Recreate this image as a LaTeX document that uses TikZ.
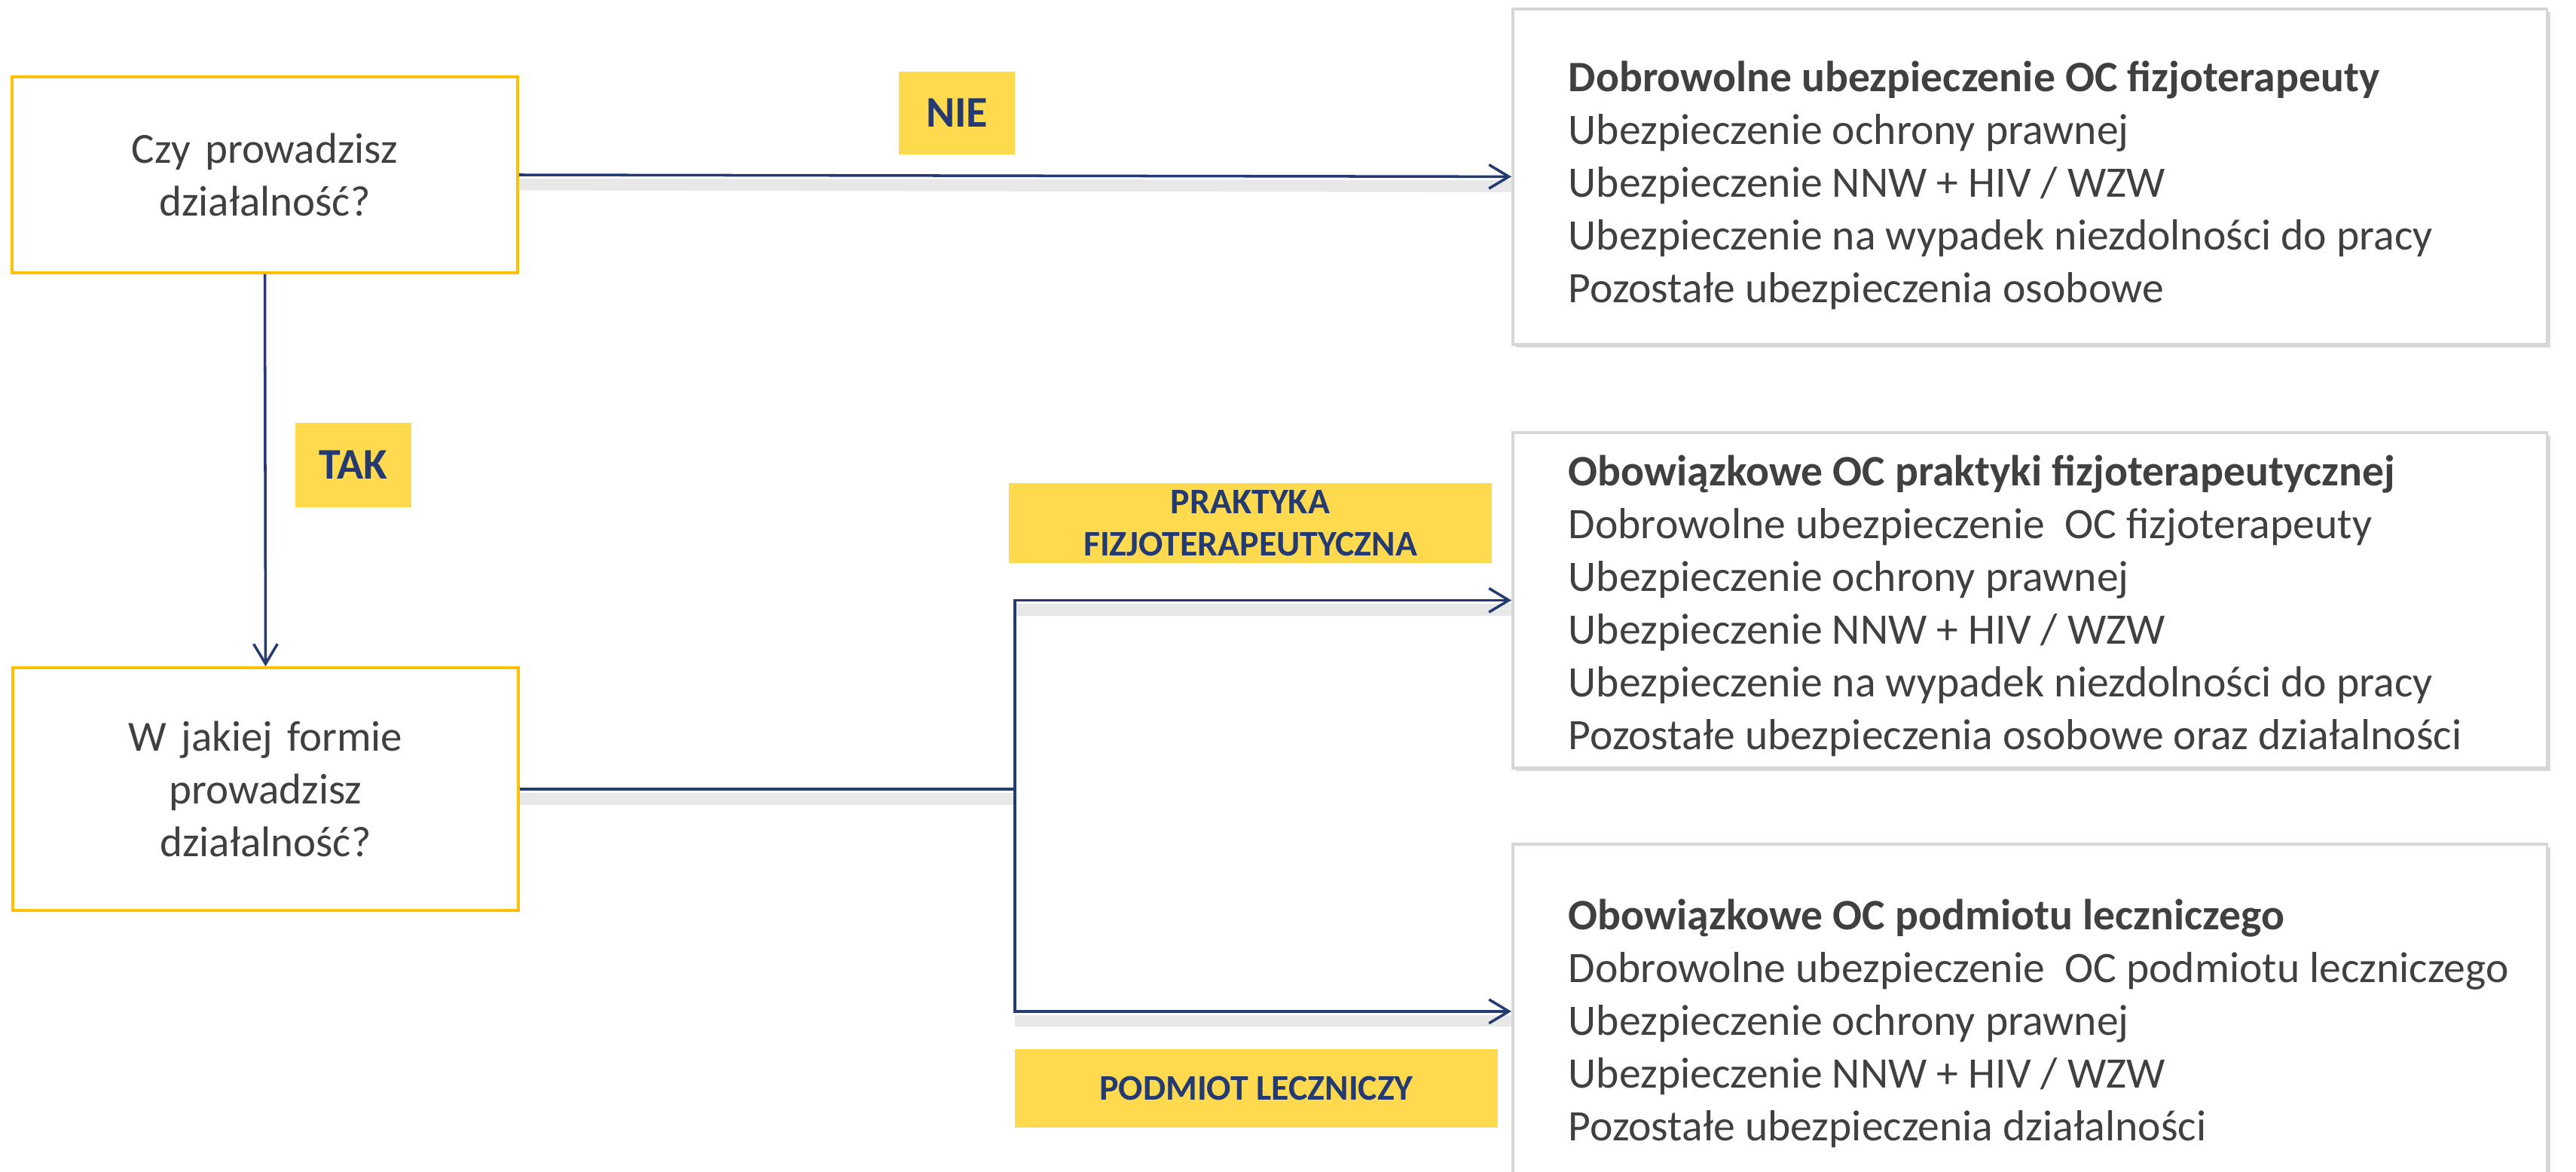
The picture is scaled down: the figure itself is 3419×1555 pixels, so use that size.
\documentclass[tikz,border=0pt]{standalone}
\usepackage{fontspec}
\setmainfont{Carlito}
\usetikzlibrary{arrows.meta,shadows}
\definecolor{navy}{HTML}{243A73}
\definecolor{gold}{HTML}{FFC000}
\definecolor{tagyellow}{HTML}{FFDA4F}
\definecolor{txtgrey}{HTML}{404040}
\definecolor{boxgrey}{HTML}{D6D6D6}
\begin{document}
\begin{tikzpicture}[x=0.01cm, y=-0.01cm,
		>={Straight Barb[length=7.5pt,width=9pt]},
		question/.style={draw=gold, line width=1pt, minimum width=6.71cm, text width=6.2cm, align=center, text=txtgrey, font=\fontsize{16.2}{19.9}\selectfont},
		optbox/.style={draw=boxgrey, line width=1pt, fill=white, anchor=north west, minimum width=13.72cm, minimum height=4.45cm,
			drop shadow={shadow xshift=1.2pt, shadow yshift=-1.2pt, fill=black!25, opacity=.6}},
		opttext/.style={anchor=north west, inner sep=0pt, align=left, text=txtgrey, font=\fontsize{16.4}{19.9}\selectfont},
		tag/.style={fill=tagyellow, text=navy, align=center, inner sep=0pt},
		link/.style={draw=navy, line width=1pt},
		linkshadow/.style={draw=black!9, line width=4.5pt, transform canvas={yshift=-3.6pt}}]
	\useasboundingbox (0,0) rectangle (3419,1555);
	
	\node[question, minimum height=2.60cm] (q1) at (351.5,232) {Czy prowadzisz\\działalność?};
	\node[question, minimum height=3.22cm] (q2) at (352.5,1047) {W jakiej formie\\prowadzisz\\działalność?};
	
	\node[optbox] (opt1) at (2006,10) {};
	\node[optbox] (opt2) at (2006,572) {};
	\node[optbox, minimum height=4.44cm] (opt3) at (2006,1118) {};
	
	\node[opttext] (opt1t) at (2081,80) {\textbf{Dobrowolne ubezpieczenie OC fizjoterapeuty}\\
		Ubezpieczenie ochrony prawnej\\
		Ubezpieczenie NNW + HIV / WZW\\
		Ubezpieczenie na wypadek niezdolności do pracy\\
		Pozostałe ubezpieczenia osobowe};
	\node[opttext] (opt2t) at (2081,603) {\textbf{Obowiązkowe OC praktyki fizjoterapeutycznej}\\
		Dobrowolne ubezpieczenie\ \ OC fizjoterapeuty\\
		Ubezpieczenie ochrony prawnej\\
		Ubezpieczenie NNW + HIV / WZW\\
		Ubezpieczenie na wypadek niezdolności do pracy\\
		Pozostałe ubezpieczenia osobowe oraz działalności};
	\node[opttext] (opt3t) at (2081,1192) {\textbf{Obowiązkowe OC podmiotu leczniczego}\\
		Dobrowolne ubezpieczenie\ \ OC podmiotu leczniczego\\
		Ubezpieczenie ochrony prawnej\\
		Ubezpieczenie NNW + HIV / WZW\\
		Pozostałe ubezpieczenia działalności};
	
	\node[tag, minimum width=1.54cm, minimum height=1.10cm, font=\bfseries\fontsize{16.5}{19}\selectfont] (nie) at (1270,150) {NIE};
	\node[tag, minimum width=1.54cm, minimum height=1.11cm, font=\bfseries\fontsize{16.5}{19}\selectfont] (tak) at (469,617) {TAK};
	\node[tag, minimum width=6.41cm, minimum height=1.06cm, font=\bfseries\fontsize{13.6}{15.9}\selectfont] (praktyka) at (1659.5,694) {PRAKTYKA\\FIZJOTERAPEUTYCZNA};
	\node[tag, minimum width=6.41cm, minimum height=1.04cm, font=\bfseries\fontsize{13.6}{15.9}\selectfont] (podmiot) at (1667.5,1444) {PODMIOT LECZNICZY};
	
	\coordinate (split) at (1347,1047);
	\draw[linkshadow] (q1.east) -- (opt1.west);
	\draw[linkshadow] (q2.east) -- (split);
	\draw[linkshadow] (split |- opt2.west) -- (opt2.west);
	\draw[linkshadow] (split |- opt3.west) -- (opt3.west);
	
	\draw[link, ->] (q1.east) -- (opt1.west);
	\draw[link, ->] (q1.south) -- (q2.north);
	\draw[link] (q2.east) -- (split);
	\draw[link, ->] (split) |- (opt2.west);
	\draw[link, ->] (split) |- (opt3.west);
\end{tikzpicture}
\end{document}
